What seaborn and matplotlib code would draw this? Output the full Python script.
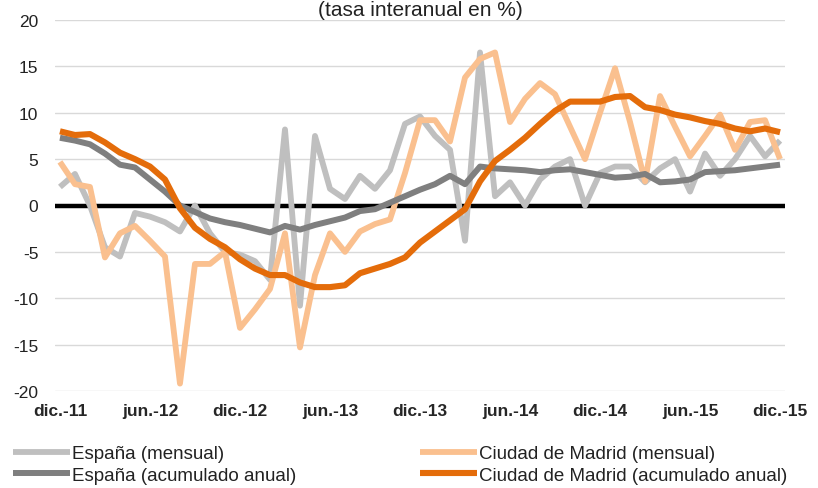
import pandas as pd
import matplotlib
matplotlib.use("Agg")
import matplotlib.pyplot as plt
import seaborn as sns

# meses: dic.-11 ... dic.-15 (49 observaciones)
meses = list(range(49))
tick_pos = [0, 6, 12, 18, 24, 30, 36, 42, 48]
tick_labels = ["dic.-11", "jun.-12", "dic.-12", "jun.-13", "dic.-13",
               "jun.-14", "dic.-14", "jun.-15", "dic.-15"]

espana_mensual = [2.0, 3.4, 0.0, -4.5, -5.5, -0.8, -1.2, -1.8, -2.8, 0.0,
                  -3.0, -5.0, -5.3, -6.0, -8.0, 8.2, -10.8, 7.5, 1.8, 0.7,
                  3.2, 1.8, 3.8, 8.8, 9.6, 7.5, 6.0, -3.8, 16.5, 1.0,
                  2.5, 0.0, 2.8, 4.2, 5.0, 0.0, 3.5, 4.2, 4.2, 2.5,
                  4.0, 5.0, 1.5, 5.6, 3.2, 5.0, 7.5, 5.3, 7.0]
madrid_mensual = [4.7, 2.3, 2.0, -5.6, -3.0, -2.2, -3.8, -5.5, -19.2, -6.3,
                  -6.3, -5.0, -13.2, -11.2, -9.0, -3.0, -15.3, -7.5, -3.0, -5.0,
                  -2.8, -2.0, -1.5, 3.5, 9.2, 9.2, 6.9, 13.8, 15.8, 16.5,
                  9.0, 11.5, 13.2, 12.0, 8.5, 5.0, 10.0, 14.8, 9.0, 2.6,
                  11.8, 8.5, 5.3, 7.5, 9.8, 6.0, 9.0, 9.2, 5.0]
espana_acum = [7.3, 7.0, 6.6, 5.6, 4.4, 4.1, 2.8, 1.5, 0.0, -0.7,
               -1.4, -1.8, -2.1, -2.5, -2.9, -2.2, -2.6, -2.1, -1.7, -1.3,
               -0.6, -0.4, 0.3, 1.0, 1.7, 2.3, 3.2, 2.3, 4.2, 4.0,
               3.9, 3.8, 3.6, 3.8, 3.9, 3.6, 3.3, 3.0, 3.1, 3.4,
               2.5, 2.6, 2.8, 3.6, 3.7, 3.8, 4.0, 4.2, 4.4]
madrid_acum = [8.0, 7.6, 7.7, 6.8, 5.7, 5.0, 4.2, 2.8, -0.3, -2.4,
               -3.6, -4.5, -5.8, -6.8, -7.5, -7.5, -8.3, -8.8, -8.8, -8.6,
               -7.3, -6.8, -6.3, -5.6, -4.0, -2.8, -1.6, -0.4, 2.6, 4.8,
               6.0, 7.3, 8.8, 10.2, 11.2, 11.2, 11.2, 11.7, 11.8, 10.6,
               10.3, 9.8, 9.5, 9.1, 8.8, 8.3, 8.0, 8.3, 7.9]

series = [
    ("España (mensual)", espana_mensual, "#bfbfbf", 4.2, 2),
    ("Ciudad de Madrid (mensual)", madrid_mensual, "#fac08f", 4.2, 3),
    ("España (acumulado anual)", espana_acum, "#7f7f7f", 4.3, 4),
    ("Ciudad de Madrid (acumulado anual)", madrid_acum, "#e46c0a", 4.4, 5),
]

sns.set_style("white")
plt.rcParams["font.family"] = ["Liberation Sans", "DejaVu Sans"]

fig = plt.figure(figsize=(8.18, 4.89), dpi=100)
ax = fig.add_axes([55 / 818, 1 - 392 / 489, 730 / 818, 371 / 489])

ax.axhline(0, color="black", lw=3.2, zorder=1.5)
for name, vals, color, lw, z in series:
    df = pd.DataFrame({"mes": meses, "valor": vals})
    sns.lineplot(data=df, x="mes", y="valor", ax=ax, color=color, lw=lw,
                 label=name, zorder=z, solid_joinstyle="round",
                 solid_capstyle="butt")

ax.set_xlim(-0.33, 48.33)
ax.set_ylim(-20, 20)
ax.set_yticks(range(-20, 21, 5))
ax.set_yticklabels([str(v) for v in range(-20, 21, 5)], fontsize=12.5,
                   color="#222222")
ax.set_xticks(tick_pos)
ax.set_xticklabels(tick_labels, fontsize=12.5, fontweight="bold")
ax.tick_params(axis="both", length=0)
ax.tick_params(axis="y", pad=12)
ax.tick_params(axis="x", pad=9)
ax.set_xlabel("")
ax.set_ylabel("")
ax.grid(axis="y", color="#d9d9d9", lw=1)
ax.grid(axis="x", visible=False)
for s in ax.spines.values():
    s.set_visible(False)

# título (en el original queda recortado arriba; aquí se deja entero)
fig.text(0.514, 0.997, "(tasa interanual en %)", ha="center",
         va="top", fontsize=15, color="#222222")

handles, labels = ax.get_legend_handles_labels()
ax.get_legend().remove()
order = [0, 2, 1, 3]
fig.legend([handles[i] for i in order], [labels[i] for i in order],
           loc="upper left", bbox_to_anchor=(13 / 818, 1 - 446 / 489),
           ncol=2, frameon=False, fontsize=13.5, labelcolor="#222222",
           handlelength=3.05, handletextpad=0.1, columnspacing=6.6,
           labelspacing=0.25, borderaxespad=0, borderpad=0)

fig.savefig("out.png", dpi=100)
